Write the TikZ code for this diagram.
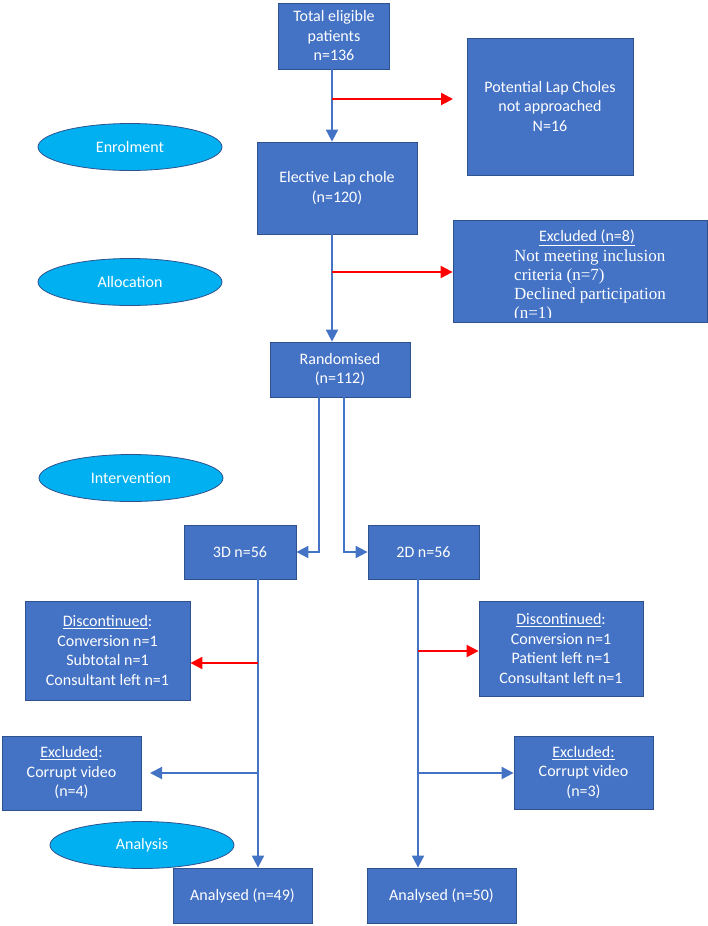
\documentclass[tikz,border=0pt]{standalone}
\usepackage{fontspec}
\setmainfont{Carlito}
\newfontfamily\cambria{Liberation Serif}
\usetikzlibrary{arrows.meta,shapes.geometric}
\definecolor{boxblue}{HTML}{4472C4}
\definecolor{edgeblue}{HTML}{2F528F}
\definecolor{phaseblue}{HTML}{00B0F0}
\begin{document}
\begin{tikzpicture}[x=1pt, y=-1pt,
  box/.style={draw=edgeblue, line width=0.8pt, fill=boxblue, text=white, inner sep=0pt, align=center, font=\fontsize{16}{19.5}\selectfont},
  phase/.style={ellipse, draw=edgeblue, line width=0.8pt, fill=phaseblue, text=white, inner sep=0pt, minimum width=184pt, minimum height=47pt, font=\fontsize{16}{19.5}\selectfont},
  flow/.style={draw=boxblue, line width=2pt, -{Triangle[length=12pt,width=12pt]}},
  lossarrow/.style={draw=red, line width=2pt, -{Triangle[length=12pt,width=12pt]}}]
\useasboundingbox (0,0) rectangle (708,926);

\node[box, minimum width=111pt, minimum height=66pt] (tot) at (334,36) {Total eligible\\patients\\n=136};
\node[box, minimum width=166pt, minimum height=137pt] (pot) at (550,106.5) {Potential Lap Choles\\not approached\\N=16};
\node[box, minimum width=160pt, minimum height=92pt] (elec) at (337,188) {Elective Lap chole\\(n=120)};
\node[box, minimum width=254pt, minimum height=102pt] (exc1) at (580,271) {};
\node[box, minimum width=140pt, minimum height=55pt] (rand) at (340,369.5) {Randomised\\(n=112)};
\node[box, minimum width=112pt, minimum height=54pt] (arm3) at (240,552) {3D n=56};
\node[box, minimum width=111pt, minimum height=54pt] (arm2) at (423.5,552) {2D n=56};
\node[box, minimum width=165pt, minimum height=99pt] (disc3) at (107.5,650.5) {\underline{Discontinued}:\\Conversion n=1\\Subtotal n=1\\Consultant left n=1};
\node[box, minimum width=164pt, minimum height=95pt] (disc2) at (561,648.5) {\underline{Discontinued}:\\Conversion n=1\\Patient left n=1\\Consultant left n=1};
\node[box, minimum width=139pt, minimum height=74pt] (exc3) at (71.5,773) {\underline{Excluded}:\\Corrupt video\\(n=4)};
\node[box, minimum width=139pt, minimum height=73pt] (exc2) at (583.5,772.5) {\underline{Excluded:}\\Corrupt video\\(n=3)};
\node[box, minimum width=139pt, minimum height=55pt] (ana3) at (242.5,895.5) {Analysed (n=49)};
\node[box, minimum width=149pt, minimum height=55pt] (ana2) at (441.5,895.5) {Analysed (n=50)};

\begin{scope}
\clip (exc1.north west) rectangle (707,317);
\node[text=white, inner sep=0pt, font=\fontsize{16}{19.5}\selectfont] (exc1head) at (587,238) {\underline{Excluded (n=8)}};
\node[text=white, inner sep=0pt, align=left, anchor=north west, font=\cambria\fontsize{17}{19}\selectfont] (exc1body) at (514,250) {Not meeting inclusion\\criteria (n=7)\\Declined participation\\(n=1)};
\end{scope}

\node[phase] (enrol) at (130,147) {Enrolment};
\node[phase] (alloc) at (130,282) {Allocation};
\node[phase] (interv) at (131,478) {Intervention};
\node[phase] (anal) at (142,845) {Analysis};

\coordinate (mx) at (332,0);
\coordinate (lx) at (258,0);
\coordinate (rx) at (418,0);
\draw[flow] (tot.south -| mx) -- (elec.north -| mx);
\draw[flow] (elec.south -| mx) -- (rand.north -| mx);
\coordinate (j1) at (332,99);
\coordinate (j1end) at (453,99);
\draw[lossarrow] (j1) -- (j1end);
\coordinate (j2) at (332,272);
\draw[lossarrow] (j2) -- (exc1.west |- j2);
\draw[flow] ([xshift=-21pt]rand.south) |- (arm3.east);
\draw[flow] ([xshift=4pt]rand.south) |- (arm2.west);
\draw[flow] (arm3.south -| lx) -- (ana3.north -| lx);
\draw[flow] (arm2.south -| rx) -- (ana2.north -| rx);
\coordinate (k3) at (258,663);
\draw[lossarrow] (k3) -- (disc3.east |- k3);
\coordinate (k2) at (418,651);
\draw[lossarrow] (k2) -- (disc2.west |- k2);
\coordinate (m3) at (258,773);
\coordinate (m3end) at (150,773);
\draw[flow] (m3) -- (m3end);
\coordinate (m2) at (418,773);
\draw[flow] (m2) -- (exc2.west |- m2);
\end{tikzpicture}
\end{document}
